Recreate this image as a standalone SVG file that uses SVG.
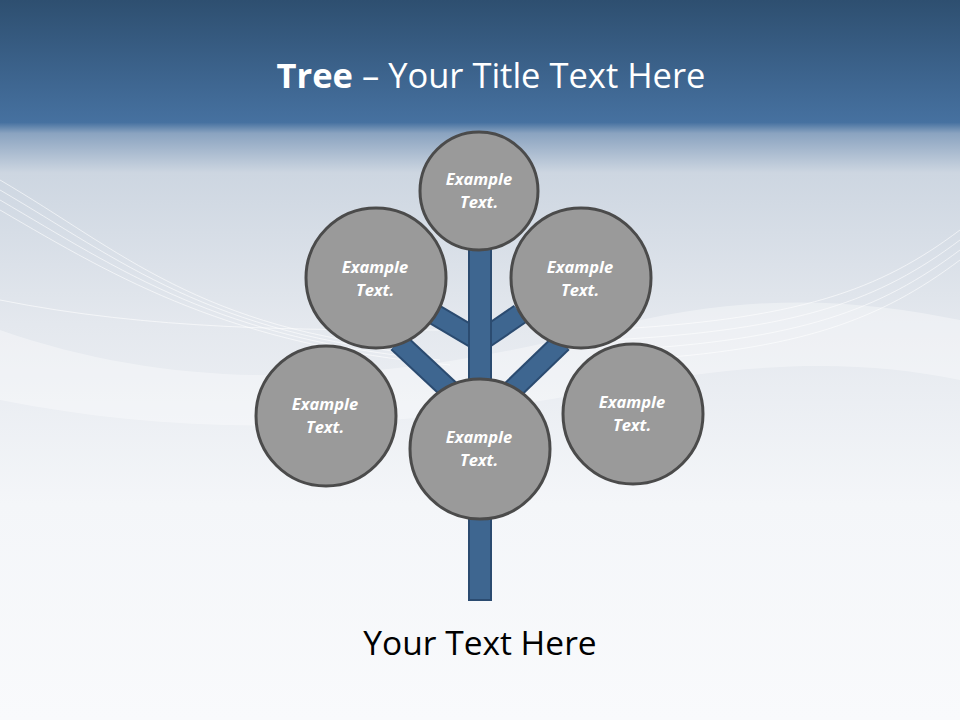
<svg xmlns="http://www.w3.org/2000/svg" width="960" height="720" viewBox="0 0 960 720">
<defs>
<linearGradient id="bg" x1="0" y1="0" x2="0" y2="1">
<stop offset="0" stop-color="#2e4f70"/>
<stop offset="0.17" stop-color="#4671a0"/>
<stop offset="0.185" stop-color="#8aa3c0"/>
<stop offset="0.24" stop-color="#cdd6e1"/>
<stop offset="0.45" stop-color="#e4e8ee"/>
<stop offset="0.7" stop-color="#f4f6f9"/>
<stop offset="1" stop-color="#f9fafc"/>
</linearGradient>
<style>
.node circle{fill:#9a9a9a;stroke:#4b4b4b;stroke-width:3}
.node text{font-family:"Open Sans","Liberation Sans",sans-serif;font-size:16.5px;font-weight:bold;font-style:italic;fill:#ffffff;text-anchor:middle}
.br{fill:#3e6690;stroke:#2b4b70;stroke-width:2}
.wave{fill:none;stroke:#ffffff;stroke-opacity:0.6;stroke-width:1}
</style>
</defs>
<rect x="0" y="0" width="960" height="720" fill="url(#bg)"/>
<g id="waves">
<path class="wave" d="M0 180 C120 250 200 330 420 350" />
<path class="wave" d="M0 190 C120 260 210 335 430 355" />
<path class="wave" d="M0 200 C120 270 220 340 440 360" />
<path class="wave" d="M0 210 C120 280 230 345 450 365" />
<path class="wave" d="M0 300 C150 330 300 330 440 330" />
<path class="wave" d="M960 230 C880 290 800 320 600 330" />
<path class="wave" d="M960 240 C880 300 800 330 610 340" />
<path class="wave" d="M960 250 C880 310 800 340 620 350" />
<path class="wave" d="M960 260 C880 320 800 350 630 360" />
<path d="M0 330 C200 400 400 380 600 330 C750 290 860 300 960 320 L960 380 C860 360 760 360 600 390 C400 430 200 440 0 400 Z" fill="#ffffff" fill-opacity="0.35"/>
</g>
<g id="connectors">
<line x1="434" y1="314" x2="478" y2="340" stroke="#2b4b70" stroke-width="22"/>
<line x1="434" y1="314" x2="478" y2="340" stroke="#3e6690" stroke-width="18"/>
<line x1="482" y1="340" x2="520" y2="314" stroke="#2b4b70" stroke-width="22"/>
<line x1="482" y1="340" x2="520" y2="314" stroke="#3e6690" stroke-width="18"/>
<line x1="398" y1="342" x2="458" y2="398" stroke="#2b4b70" stroke-width="22"/>
<line x1="398" y1="342" x2="458" y2="398" stroke="#3e6690" stroke-width="18"/>
<line x1="562" y1="342" x2="504" y2="398" stroke="#2b4b70" stroke-width="22"/>
<line x1="562" y1="342" x2="504" y2="398" stroke="#3e6690" stroke-width="18"/>
<rect class="br" x="469" y="245" width="22" height="355"/>
</g>
<g id="node-top" class="node"><circle cx="479" cy="191" r="59"/><text x="479" y="185">Example</text><text x="479" y="208">Text.</text></g>
<g id="node-ul" class="node"><circle cx="376" cy="278" r="70"/><text x="375" y="273">Example</text><text x="375" y="296">Text.</text></g>
<g id="node-ur" class="node"><circle cx="581" cy="278" r="70"/><text x="580" y="273">Example</text><text x="580" y="296">Text.</text></g>
<g id="node-ll" class="node"><circle cx="326" cy="416" r="70"/><text x="325" y="410">Example</text><text x="325" y="433">Text.</text></g>
<g id="node-lr" class="node"><circle cx="633" cy="414" r="70"/><text x="632" y="408">Example</text><text x="632" y="431">Text.</text></g>
<g id="node-bottom" class="node"><circle cx="480" cy="449" r="70"/><text x="479" y="443">Example</text><text x="479" y="466">Text.</text></g>
<text x="491" y="88" font-family="'Open Sans','Liberation Sans',sans-serif" font-size="34.5" fill="#ffffff" text-anchor="middle"><tspan font-weight="bold">Tree</tspan> – Your Title Text Here</text>
<text x="480" y="655" font-family="'Open Sans','Liberation Sans',sans-serif" font-size="33.5" fill="#000000" text-anchor="middle">Your Text Here</text>
</svg>
